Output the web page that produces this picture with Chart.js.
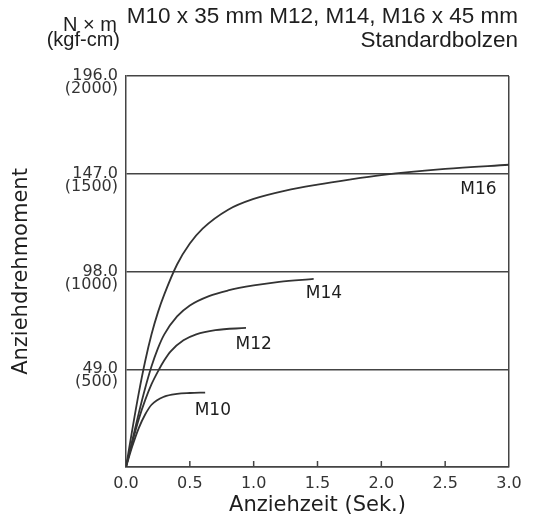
<!DOCTYPE html>
<html>
<head>
<meta charset="utf-8">
<script src="https://cdn.jsdelivr.net/npm/chart.js@4/dist/chart.umd.min.js"></script>
<style>
  html, body { margin: 0; padding: 0; background: #fff; }
  #wrap { width: 543px; height: 528px; position: relative; }
</style>
</head>
<body>
<div id="wrap"><canvas id="c"></canvas></div>
<script>
// ---- data ----
const seriesNames = ['M10', 'M12', 'M14', 'M16'];

const m10Time   = [0, 0.05, 0.1, 0.15, 0.2, 0.3, 0.4, 0.5, 0.62];
const m10Torque = [0, 10.5, 19.5, 26.3, 31.2, 35.3, 36.7, 37.1, 37.3];

const m12Time   = [0, 0.05, 0.1, 0.15, 0.2, 0.255, 0.3, 0.35, 0.45, 0.55, 0.7, 0.94];
const m12Torque = [0, 12.5, 24, 33.5, 41.5, 48.5, 53.5, 58, 63.5, 66.5, 68.6, 69.7];

const m14Time   = [0, 0.05, 0.1, 0.15, 0.2, 0.25, 0.3, 0.4, 0.5, 0.65, 0.8, 1.0, 1.2, 1.47];
const m14Torque = [0, 13.5, 27, 39.5, 50.5, 59.5, 66.5, 75.5, 81, 85.7, 88.5, 91, 92.8, 94.3];

const m16Time   = [0, 0.05, 0.1, 0.15, 0.2, 0.25, 0.3, 0.4, 0.5, 0.6, 0.8, 1.0, 1.25, 1.5, 1.75, 2.0, 2.5, 3.0];
const m16Torque = [0, 19, 37, 53, 66.5, 77.5, 86.5, 101.5, 112, 119.5, 129, 134.4, 138.6, 141.6, 144.1, 146.3, 149.4, 151.5];

const xMin = 0, xMax = 3.0, xStep = 0.5;
const yTickValues = [49, 98, 147, 196];
const yTickNm     = ['49.0', '98.0', '147.0', '196.0'];
const yTickKgf    = ['(500)', '(1000)', '(1500)', '(2000)'];

const curveLabelTime   = [0.68, 1.0, 1.55, 2.76];
const curveLabelTorque = [28.3, 61.2, 86.8, 139];

const titleLines = ['M10 x 35 mm M12, M14, M16 x 45 mm', 'Standardbolzen'];
const unitLines  = ['N × m', '(kgf-cm)'];
const xTitle = 'Anziehzeit (Sek.)';
const yTitle = 'Anziehdrehmoment';

// ---- styles ----
const ink = '#333';
const lineInk = '#444';
const textInk = '#1e1e1e';
const tickFont = { family: '"DejaVu Sans", sans-serif', size: 16, lineHeight: 0.8125 };
const titleFont = { family: '"DejaVu Sans", sans-serif', size: 21 };

function pts(t, v) { return t.map((x, i) => ({ x: x, y: v[i] })); }
const seriesData = [pts(m10Time, m10Torque), pts(m12Time, m12Torque), pts(m14Time, m14Torque), pts(m16Time, m16Torque)];

const decor = {
  id: 'decor',
  afterDraw(chart) {
    const { ctx, chartArea, scales } = chart;
    const { left, right, bottom } = chartArea;
    const x = scales.x, y = scales.y;
    ctx.save();
    // inward tick marks on the time axis
    ctx.strokeStyle = lineInk;
    ctx.lineWidth = 1.5;
    x.ticks.forEach(t => {
      if (t.value > xMin && t.value < xMax) {
        const px = x.getPixelForValue(t.value);
        ctx.beginPath();
        ctx.moveTo(px, bottom);
        ctx.lineTo(px, bottom - 6);
        ctx.stroke();
      }
    });
    // curve labels
    ctx.fillStyle = textInk;
    ctx.font = '17px "DejaVu Sans", sans-serif';
    ctx.textAlign = 'center';
    ctx.textBaseline = 'middle';
    seriesNames.forEach((n, i) => {
      ctx.fillText(n, x.getPixelForValue(curveLabelTime[i]), y.getPixelForValue(curveLabelTorque[i]));
    });
    // header
    ctx.textAlign = 'right';
    ctx.textBaseline = 'alphabetic';
    ctx.font = '22.5px "Liberation Sans", Arial, sans-serif';
    ctx.fillText(titleLines[0], right + 9, 23);
    ctx.fillText(titleLines[1], right + 9, 47);
    ctx.font = '20px "Liberation Sans", Arial, sans-serif';
    ctx.fillText(unitLines[0], left - 9, 31);
    ctx.fillText(unitLines[1], left - 6, 46);
    ctx.restore();
  }
};

new Chart(document.getElementById('c'), {
  type: 'line',
  data: {
    datasets: seriesNames.map((n, i) => ({
      label: n,
      data: seriesData[i],
      borderColor: ink,
      borderWidth: 1.8,
      pointRadius: 0,
      fill: false,
      cubicInterpolationMode: 'monotone'
    }))
  },
  options: {
    responsive: true,
    maintainAspectRatio: false,
    animation: false,
    layout: { padding: { top: 76, right: 34, bottom: 0, left: 0 } },
    plugins: { legend: { display: false }, tooltip: { enabled: false }, title: { display: false } },
    scales: {
      x: {
        type: 'linear',
        min: xMin, max: xMax,
        afterFit(scale) { scale.height = 61; },
        border: { display: true, color: lineInk, width: 1.5 },
        grid: {
          drawTicks: false,
          lineWidth: 1.5,
          color: c => (c.tick && c.tick.value === xMax) ? lineInk : 'rgba(0,0,0,0)'
        },
        ticks: {
          stepSize: xStep,
          autoSkip: false,
          maxRotation: 0,
          padding: 10,
          color: ink,
          font: tickFont,
          callback: v => Number(v).toFixed(1)
        },
        title: { display: true, text: xTitle, color: textInk, font: titleFont, padding: { top: 0, bottom: 10 } }
      },
      y: {
        type: 'linear',
        min: 0, max: 196,
        afterFit(scale) { scale.width = 126; },
        border: { display: true, color: lineInk, width: 1.5 },
        grid: { drawTicks: false, lineWidth: 1.5, color: lineInk },
        ticks: {
          stepSize: 49,
          autoSkip: false,
          padding: 8,
          color: ink,
          font: tickFont,
          callback: v => {
            const i = yTickValues.indexOf(v);
            return i < 0 ? '' : ['', yTickNm[i], yTickKgf[i]];
          }
        },
        title: { display: true, text: yTitle, color: textInk, font: titleFont, padding: { top: 9, bottom: 0 } }
      }
    }
  },
  plugins: [decor]
});
</script>
</body>
</html>
